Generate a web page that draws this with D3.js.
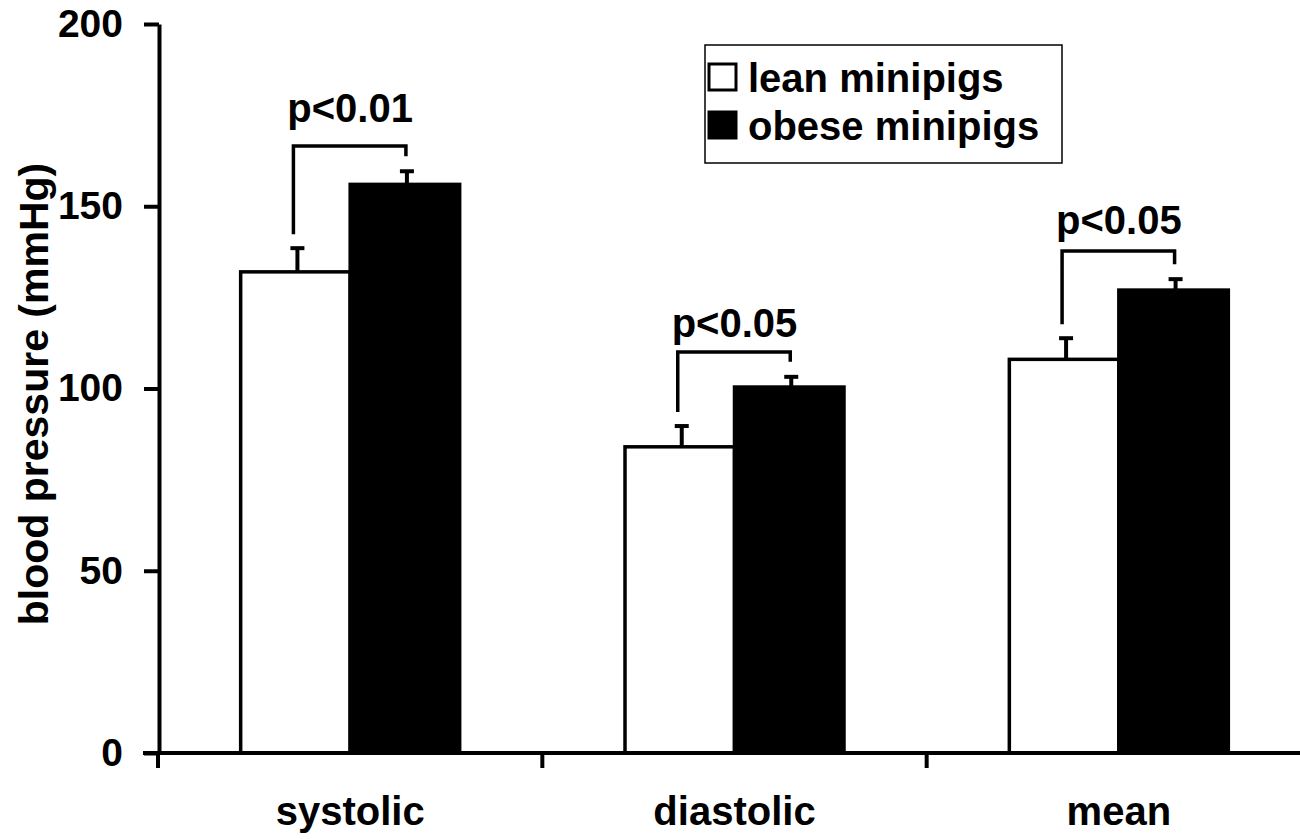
<!DOCTYPE html>
<html>
<head>
<meta charset="utf-8">
<script src="https://cdn.jsdelivr.net/npm/d3@7"></script>
<style>
  body { margin: 0; background: #fff; }
  text { font-family: "Liberation Sans", Arial, sans-serif; font-weight: bold; fill: #000; }
</style>
</head>
<body>
<div id="chart"></div>
<script>
var categories = ['systolic', 'diastolic', 'mean'];
var series = ['lean minipigs', 'obese minipigs'];
var leanMean = [132, 84, 108];
var leanSem = [6.5, 5.7, 5.8];
var obeseMean = [156, 100.4, 127];
var obeseSem = [3.6, 2.8, 3.0];
var yTicks = [0, 50, 100, 150, 200];
var pLabels = ['p<0.01', 'p<0.05', 'p<0.05'];
var bracketLevel = [166.5, 110, 137.7];
var labelLevel = [173, 114, 142.5];

var w = 1300, h = 839;
var groupW = 219;

var svg = d3.select('#chart')
  .append('svg')
    .attr('width', w)
    .attr('height', h);

var y = d3.scaleLinear().domain([0, 200]).range([753, 24]);
var x = d3.scaleBand().domain(categories).range([158, 1311]);
var xs = d3.scaleBand().domain(series).range([0, groupW]);
var off = (x.bandwidth() - groupW) / 2;

var rows = categories.map(function (c, i) {
  return [
    { cat: c, s: series[0], v: leanMean[i], e: leanSem[i] },
    { cat: c, s: series[1], v: obeseMean[i], e: obeseSem[i] }
  ];
});
var flat = d3.merge(rows);

function bx(d) { return x(d.cat) + off + xs(d.s); }
function cx(d) { return bx(d) + xs.bandwidth() / 2; }

// bars
svg.selectAll('rect.bar')
  .data(flat)
  .enter()
  .append('rect')
    .attr('class', 'bar')
    .attr('x', bx)
    .attr('y', d => y(d.v))
    .attr('width', xs.bandwidth())
    .attr('height', d => y(0) - y(d.v))
    .style('fill', d => d.s === series[0] ? '#fff' : '#000')
    .style('stroke', '#000')
    .style('stroke-width', 3.5);

// error bars (upper only)
var eb = svg.selectAll('g.err')
  .data(flat)
  .enter()
  .append('g')
    .attr('class', 'err')
    .style('stroke', '#000')
    .style('stroke-width', 4);
eb.append('line')
  .attr('x1', d => cx(d) + 2).attr('x2', d => cx(d) + 2)
  .attr('y1', d => y(d.v)).attr('y2', d => y(d.v + d.e));
eb.append('line')
  .attr('x1', d => cx(d) - 5).attr('x2', d => cx(d) + 9)
  .attr('y1', d => y(d.v + d.e)).attr('y2', d => y(d.v + d.e));

// significance brackets
svg.selectAll('path.bracket')
  .data(rows)
  .enter()
  .append('path')
    .attr('class', 'bracket')
    .attr('d', function (r, i) {
      var l = r[0], o = r[1];
      var x1 = cx(l) - 2, x2 = cx(o) + 1;
      var p = d3.path();
      p.moveTo(x1, y(l.v + l.e) - 14);
      p.lineTo(x1, y(bracketLevel[i]));
      p.lineTo(x2, y(bracketLevel[i]));
      p.lineTo(x2, y(o.v + o.e) - 15);
      return p.toString();
    })
    .style('fill', 'none')
    .style('stroke', '#000')
    .style('stroke-width', 3.5);

svg.selectAll('text.p')
  .data(rows)
  .enter()
  .append('text')
    .attr('class', 'p')
    .attr('x', r => (cx(r[0]) + cx(r[1])) / 2)
    .attr('y', (r, i) => y(labelLevel[i]))
    .attr('text-anchor', 'middle')
    .style('font-size', '40px')
    .text((r, i) => pLabels[i]);

// y axis
var yAxis = svg.append('g')
  .attr('transform', 'translate(159,0)')
  .call(d3.axisLeft(y).tickValues(yTicks).tickSize(15).tickSizeOuter(0).tickPadding(21));
yAxis.select('.domain').style('stroke', '#000').style('stroke-width', 4);
yAxis.selectAll('.tick line').style('stroke', '#000').style('stroke-width', 4);
yAxis.selectAll('.tick text')
  .style('font-family', '"Liberation Sans", Arial, sans-serif')
  .style('font-weight', 'bold')
  .style('font-size', '39px');

// x axis
var xr = x.range();
svg.append('line')
  .attr('x1', xr[0] - 15).attr('x2', xr[1])
  .attr('y1', y(0)).attr('y2', y(0))
  .style('stroke', '#000').style('stroke-width', 4);
var bounds = categories.map(c => x(c)).concat([xr[1]]);
svg.selectAll('line.xtick')
  .data(bounds)
  .enter()
  .append('line')
    .attr('class', 'xtick')
    .attr('x1', d => d).attr('x2', d => d)
    .attr('y1', y(0)).attr('y2', y(0) + 15)
    .style('stroke', '#000').style('stroke-width', 4);

svg.selectAll('text.cat')
  .data(categories)
  .enter()
  .append('text')
    .attr('class', 'cat')
    .attr('x', c => x(c) + x.bandwidth() / 2)
    .attr('y', 825)
    .attr('text-anchor', 'middle')
    .style('font-size', '40px')
    .text(c => c);

// y title
svg.append('text')
  .attr('transform', 'translate(48,394) rotate(-90)')
  .attr('text-anchor', 'middle')
  .style('font-size', '41px')
  .text('blood pressure (mmHg)');

// legend
var lg = svg.append('g');
lg.append('rect')
  .attr('x', 705).attr('y', 45).attr('width', 357).attr('height', 118)
  .style('fill', '#fff').style('stroke', '#000').style('stroke-width', 1.5);
lg.selectAll('rect.sw')
  .data(series)
  .enter()
  .append('rect')
    .attr('class', 'sw')
    .attr('x', 709)
    .attr('y', (d, i) => 64 + i * 48)
    .attr('width', 27).attr('height', 26)
    .style('fill', (d, i) => i === 0 ? '#fff' : '#000')
    .style('stroke', '#000')
    .style('stroke-width', 3);
lg.selectAll('text.lt')
  .data(series)
  .enter()
  .append('text')
    .attr('class', 'lt')
    .attr('x', 748)
    .attr('y', (d, i) => 92 + i * 48)
    .style('font-size', '40px')
    .text(d => d);
</script>
</body>
</html>
